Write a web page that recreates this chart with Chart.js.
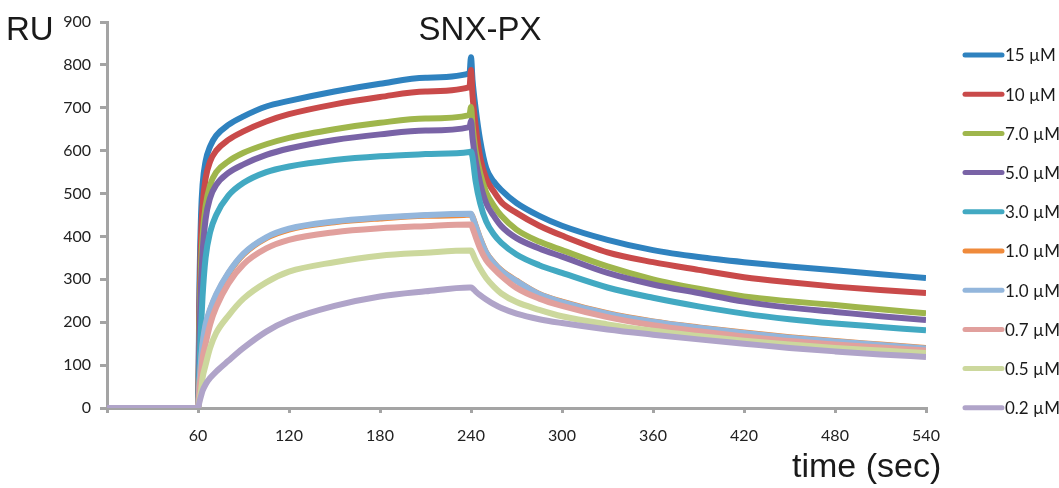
<!DOCTYPE html>
<html>
<head>
<meta charset="utf-8">
<title>SNX-PX</title>
<script src="https://cdn.jsdelivr.net/npm/chart.js@4/dist/chart.umd.min.js"></script>
<style>
    html, body { margin: 0; padding: 0; background: #ffffff; }
    #wrap { width: 1059px; height: 488px; }
</style>
</head>
<body>
<div id="wrap"><canvas id="spr-chart" width="1059" height="488"></canvas></div>
<script>
// time points (sec) shared by all sensorgrams
const times = [0, 59, 60, 61, 62, 63, 65, 68, 72, 80, 90, 105, 120, 150, 180, 210, 239,
    240, 241, 243, 246, 250, 255, 260, 270, 285, 300, 330, 360, 390, 420, 450, 480, 510, 540];

const labels = ["15 µM", "10 µM", "7.0 µM", "5.0 µM", "3.0 µM", "1.0 µM", "1.0 µM", "0.7 µM", "0.5 µM", "0.2 µM"];
const colors = ["#2f82bf", "#c94a4a", "#9fb64c", "#7963a6", "#42a9c2", "#ef8a3b", "#93b6dc", "#e1a09d", "#ccd89d", "#b0a4c9"];

// response units
const ru15 = [0, 0, 0, 300, 450, 520, 575, 610, 635, 660, 680, 703, 716, 738, 756, 770, 780,
    818, 765, 700, 625, 560, 528, 508, 478, 448, 425, 392, 368, 352, 340, 330, 321, 312, 303];
const ru10 = [0, 0, 0, 250, 400, 470, 535, 575, 600, 625, 645, 668, 685, 708, 725, 738, 748,
    788, 730, 660, 585, 535, 505, 480, 455, 425, 402, 363, 340, 322, 305, 293, 283, 275, 268];
const ru7 = [0, 0, 0, 200, 330, 400, 470, 520, 550, 575, 595, 615, 630, 650, 665, 675, 683,
    702, 660, 600, 548, 503, 472, 448, 416, 388, 368, 330, 300, 278, 260, 249, 240, 230, 221];
const ru5 = [0, 0, 0, 170, 290, 360, 440, 490, 520, 548, 568, 590, 605, 625, 638, 647, 655,
    670, 630, 578, 525, 478, 448, 424, 396, 372, 353, 315, 288, 268, 248, 234, 224, 214, 205];
const ru3 = [0, 0, 0, 100, 190, 260, 350, 410, 450, 495, 525, 550, 563, 578, 587, 592, 597,
    598, 585, 530, 478, 435, 405, 385, 358, 333, 315, 281, 257, 237, 220, 207, 197, 189, 181];
const ru1a = [0, 0, 0, 58, 105, 145, 190, 228, 262, 313, 358, 396, 416, 433, 442, 448, 451,
    452, 446, 426, 396, 363, 339, 321, 297, 266, 248, 221, 202, 188, 176, 165, 156, 148, 140];
const ru1b = [0, 0, 0, 60, 110, 150, 195, 230, 265, 315, 360, 398, 418, 435, 444, 450, 453,
    453, 445, 425, 395, 362, 338, 320, 296, 265, 247, 220, 201, 187, 175, 164, 155, 147, 139];
const ru07 = [0, 0, 0, 45, 80, 115, 150, 195, 235, 290, 335, 372, 392, 410, 419, 424, 428,
    428, 420, 400, 372, 345, 325, 308, 280, 255, 238, 212, 193, 179, 167, 156, 148, 141, 134];
const ru05 = [0, 0, 0, 20, 40, 70, 100, 140, 175, 215, 255, 293, 318, 340, 355, 362, 367,
    367, 361, 345, 325, 303, 283, 267, 247, 229, 214, 195, 180, 168, 157, 148, 140, 134, 128];
const ru02 = [0, 0, 0, 15, 28, 40, 55, 70, 85, 110, 140, 178, 205, 238, 260, 272, 281,
    281, 279, 272, 263, 253, 242, 233, 220, 207, 198, 183, 171, 160, 150, 140, 132, 125, 119];

const series = [ru15, ru10, ru7, ru5, ru3, ru1a, ru1b, ru07, ru05, ru02];

document.addEventListener("DOMContentLoaded", function() {
    const ctx = document.getElementById("spr-chart").getContext("2d");
    const axisGrey = "#a4a4a4";
    const tickFont = { family: "Lato", size: 16 };

    // free text + legend, drawn on top of the chart
    const textPlugin = {
        id: "sprText",
        afterDraw(chart) {
            const c = chart.ctx;
            c.save();
            c.fillStyle = "#1a1a1a";
            c.font = "33px 'Liberation Sans', Arial, sans-serif";
            c.textBaseline = "alphabetic";
            c.textAlign = "left";
            c.fillText("RU", 6, 40);
            c.textAlign = "center";
            c.fillText("SNX-PX", 480, 40);
            c.font = "34px 'Liberation Sans', Arial, sans-serif";
            c.textAlign = "left";
            c.fillText("time (sec)", 792, 477);

            // legend
            c.font = "17px Lato";
            c.textBaseline = "middle";
            chart.data.datasets.forEach((ds, i) => {
                const y = 55 + i * 39.2;
                c.strokeStyle = ds.borderColor;
                c.lineWidth = 5;
                c.lineCap = "round";
                c.beginPath();
                c.moveTo(965, y);
                c.lineTo(1002, y);
                c.stroke();
                c.fillStyle = "#1a1a1a";
                c.fillText(ds.label, 1005, y + 1);
            });
            c.restore();
        }
    };

    const datasets = series.map((values, i) => ({
        label: labels[i],
        data: values.map((v, k) => ({ x: times[k], y: v })),
        borderColor: colors[i],
        backgroundColor: colors[i],
        borderWidth: 6,
        pointRadius: 0,
        cubicInterpolationMode: "monotone",
        order: series.length - i
    }));

    new Chart(ctx, {
        type: "line",
        data: { datasets: datasets },
        options: {
            responsive: false,
            animation: false,
            layout: { padding: { left: 0, right: 133, top: 22, bottom: 40 } },
            plugins: {
                legend: { display: false },
                tooltip: { enabled: false }
            },
            scales: {
                x: {
                    type: "linear",
                    min: 0,
                    max: 540,
                    ticks: {
                        stepSize: 60,
                        font: tickFont,
                        color: "#222",
                        padding: 13,
                        maxRotation: 0,
                        callback: v => (v === 0 ? "" : v)
                    },
                    grid: { drawOnChartArea: false, tickLength: 5, color: axisGrey, lineWidth: 3 },
                    border: { color: axisGrey, width: 3 },
                    afterFit: scale => { scale.height = 40; }
                },
                y: {
                    min: 0,
                    max: 900,
                    ticks: { stepSize: 100, font: tickFont, color: "#222", padding: 9 },
                    grid: { drawOnChartArea: false, tickLength: 7, color: axisGrey, lineWidth: 3 },
                    border: { color: axisGrey, width: 3 },
                    afterFit: scale => { scale.width = 107; }
                }
            }
        },
        plugins: [textPlugin]
    });
});
</script>
</body>
</html>
